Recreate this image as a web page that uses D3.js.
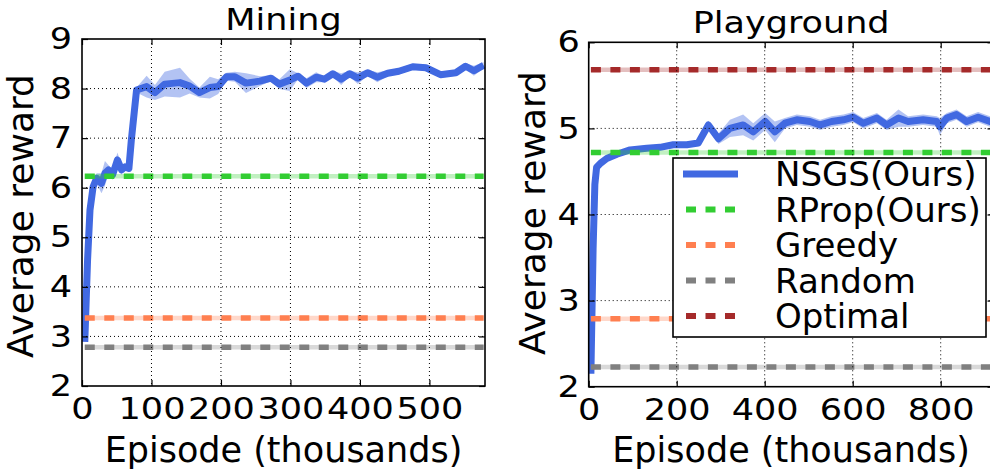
<!DOCTYPE html>
<html>
<head>
    <meta charset="utf-8">
    <title>Average reward</title>
    <style>
        * { margin: 0; padding: 0; }
        body { background: #fff; overflow: hidden; }
        svg { display: block; font-family: "DejaVu Sans", sans-serif; }
    </style>
    <script src="https://cdn.jsdelivr.net/npm/d3@7"></script>
</head>
<body>
<div id="root"></div>
<script>
    // legend order: first is the learning curve, the others are flat baselines
    var seriesNames = ["NSGS(Ours)", "RProp(Ours)", "Greedy", "Random", "Optimal"];
    var seriesColors = ["#4169e1", "#32cd32", "#ff7f50", "#808080", "#a52a2a"];

    // Mining (episodes in thousands)
    var miningEpisodes = [4, 8, 11.5, 16, 21, 28, 33, 38, 44, 51, 57, 62, 67.5, 71, 78.5,
        93, 105, 119, 141, 155, 169, 184, 196, 208, 220, 236, 256, 272, 284, 299,
        311, 323, 337, 349, 361, 373, 385, 397, 411, 425, 440, 456, 476, 495, 516,
        538, 552, 564, 578];
    var miningReward = [2.89, 4.54, 5.55, 6.02, 6.19, 6.09, 6.29, 6.36, 6.26, 6.56, 6.36, 6.42, 6.39, 6.96, 7.97,
        8.04, 7.92, 8.09, 8.12, 8.05, 7.92, 8.02, 8.04, 8.24, 8.24, 8.11, 8.15, 8.21, 8.09, 8.17,
        8.25, 8.11, 8.23, 8.19, 8.30, 8.19, 8.30, 8.21, 8.32, 8.23, 8.31, 8.35, 8.44, 8.42, 8.28,
        8.32, 8.45, 8.36, 8.47];
    var miningStd = [0, 0.05, 0.1, 0.1, 0.1, 0.2, 0.25, 0.1, 0.1, 0.15, 0.1, 0.05, 0.05, 0.05, 0.05,
        0.22, 0.15, 0.25, 0.3, 0.15, 0.1, 0.22, 0.15, 0.08, 0.1, 0.2, 0.1, 0.06, 0.1, 0.22,
        0.06, 0.1, 0.1, 0.06, 0.06, 0.12, 0.06, 0.12, 0.06, 0.1, 0.06, 0.06, 0.06, 0.06, 0.06,
        0.06, 0.06, 0.1, 0.06];
    var miningFlat = [null, 6.23, 3.37, 2.78, null];
    var miningXTicks = [0, 100, 200, 300, 400, 500];
    var miningYTicks = [2, 3, 4, 5, 6, 7, 8, 9];

    // Playground
    var playEpisodes = [5, 10, 14, 18, 28, 41, 64, 94, 132, 162, 192, 223, 249, 272, 295,
        321, 351, 374, 401, 423, 446, 473, 503, 526, 552, 579, 601, 624, 655, 677,
        704, 726, 760, 791, 798, 814, 836, 859, 885, 912, 920];
    var playReward = [2.15, 3.6, 4.35, 4.55, 4.6, 4.65, 4.70, 4.75, 4.77, 4.78, 4.81, 4.81, 4.83, 5.04, 4.88,
        5.0, 5.04, 4.96, 5.08, 4.96, 5.06, 5.10, 5.08, 5.04, 5.08, 5.10, 5.13, 5.06, 5.12, 5.04,
        5.12, 5.08, 5.10, 5.08, 5.02, 5.12, 5.16, 5.08, 5.13, 5.08, 5.10];
    var playStd = [0, 0.05, 0.05, 0.03, 0.03, 0.03, 0.03, 0.03, 0.03, 0.03, 0.03, 0.03, 0.03, 0.05, 0.06,
        0.1, 0.12, 0.1, 0.1, 0.12, 0.06, 0.06, 0.06, 0.06, 0.06, 0.06, 0.06, 0.06, 0.06, 0.06,
        0.1, 0.06, 0.06, 0.06, 0.1, 0.06, 0.06, 0.06, 0.06, 0.06, 0.06];
    var playFlat = [null, 4.72, 2.79, 2.23, 5.68];
    var playXTicks = [0, 200, 400, 600, 800];
    var playYTicks = [2, 3, 4, 5, 6];

    var width = 990, height = 469;
    var digitStretch = 1.17;   // tick digits in the picture are wider than tall
    var svg = d3.select("#root").append("svg").attr("width", width).attr("height", height);

    function renderPanel(p) {
        var x = d3.scaleLinear().domain([0, p.xMax]).range([p.left, p.right]);
        var y = d3.scaleLinear().domain([p.yMin, p.yMax]).range([p.bottom, p.top]);

        svg.append("clipPath").attr("id", p.id + "-clip")
            .append("rect")
            .attr("x", p.left).attr("y", p.top)
            .attr("width", p.right - p.left).attr("height", p.bottom - p.top);

        var plot = svg.append("g").attr("clip-path", "url(#" + p.id + "-clip)");

        var data = p.episodes.map(function (e, i) {
            return { e: e, r: p.reward[i], s: p.std[i] };
        });

        // std band + mean curve
        plot.append("path").datum(data)
            .attr("d", d3.area()
                .x(function (d) { return x(d.e); })
                .y0(function (d) { return y(d.r - d.s); })
                .y1(function (d) { return y(d.r + d.s); }))
            .attr("fill", seriesColors[0])
            .attr("fill-opacity", 0.4);

        plot.append("path").datum(data)
            .attr("d", d3.line()
                .x(function (d) { return x(d.e); })
                .y(function (d) { return y(d.r); }))
            .attr("fill", "none")
            .attr("stroke", seriesColors[0])
            .attr("stroke-width", 7)
            .attr("stroke-linejoin", "round");

        // flat baselines
        var e0 = p.episodes[0], e1 = p.episodes[p.episodes.length - 1];
        p.flat.forEach(function (v, i) {
            if (v === null) return;
            plot.append("line")
                .attr("x1", x(e0)).attr("x2", x(e1))
                .attr("y1", y(v)).attr("y2", y(v))
                .attr("stroke", seriesColors[i])
                .attr("stroke-opacity", 0.3)
                .attr("stroke-width", 4.5);
            plot.append("line")
                .attr("x1", x(e0)).attr("x2", x(e1))
                .attr("y1", y(v)).attr("y2", y(v))
                .attr("stroke", seriesColors[i])
                .attr("stroke-width", 5.5)
                .attr("stroke-dasharray", "10,9.5");
        });

        // dotted grid drawn above lines (classic style)
        plot.append("g").selectAll("line").data(p.xTicks.filter(function (t) { return t > 0; }))
            .enter().append("line")
            .attr("x1", function (d) { return x(d); }).attr("x2", function (d) { return x(d); })
            .attr("y1", p.top).attr("y2", p.bottom)
            .attr("stroke", "#000").attr("stroke-width", 1).attr("stroke-dasharray", "1,3");
        plot.append("g").selectAll("line").data(p.yTicks.filter(function (t) { return t > p.yMin && t < p.yMax; }))
            .enter().append("line")
            .attr("y1", function (d) { return y(d); }).attr("y2", function (d) { return y(d); })
            .attr("x1", p.left).attr("x2", p.right)
            .attr("stroke", "#000").attr("stroke-width", 1).attr("stroke-dasharray", "1,3");

        // axes, ticks pointing inwards on all sides
        function styleAxis(g) {
            g.select(".domain").remove();
            g.selectAll(".tick line").attr("stroke", "#000").attr("stroke-width", 1.2);
            g.selectAll(".tick text").attr("fill", "#000")
                .attr("font-family", "DejaVu Sans").attr("font-size", 30)
                .attr("transform", "scale(" + digitStretch + ",1)");
        }
        var fmt = d3.format("d");
        svg.append("g").attr("transform", "translate(0," + p.bottom + ")")
            .call(d3.axisBottom(x).tickValues(p.xTicks).tickFormat(fmt).tickSizeInner(-6).tickSizeOuter(0).tickPadding(12))
            .call(styleAxis);
        svg.append("g").attr("transform", "translate(0," + p.top + ")")
            .call(d3.axisTop(x).tickValues(p.xTicks).tickSizeInner(-6).tickSizeOuter(0).tickFormat(""))
            .call(styleAxis);
        svg.append("g").attr("transform", "translate(" + p.left + ",0)")
            .call(d3.axisLeft(y).tickValues(p.yTicks).tickFormat(fmt).tickSizeInner(-6).tickSizeOuter(0)
                .tickPadding(p.yPad / digitStretch))
            .call(styleAxis);
        svg.append("g").attr("transform", "translate(" + p.right + ",0)")
            .call(d3.axisRight(y).tickValues(p.yTicks).tickSizeInner(-6).tickSizeOuter(0).tickFormat(""))
            .call(styleAxis);

        svg.append("rect")
            .attr("x", p.left).attr("y", p.top)
            .attr("width", p.right - p.left).attr("height", p.bottom - p.top)
            .attr("fill", "none").attr("stroke", "#000").attr("stroke-width", 1.6);

        var cx = (p.left + p.right) / 2;
        svg.append("text").text(p.title)
            .attr("transform", "translate(" + cx + "," + (p.top - 9) + ") scale(1.13,1)")
            .attr("text-anchor", "middle").attr("font-size", 31);
        svg.append("text").text("Episode (thousands)")
            .attr("x", cx).attr("y", 462)
            .attr("text-anchor", "middle").attr("font-size", 35);
        svg.append("text").text("Average reward")
            .attr("transform", "translate(" + p.yLabelX + "," + p.yLabelY + ") rotate(-90)")
            .attr("text-anchor", "middle").attr("font-size", 36);
    }

    renderPanel({
        id: "mining", title: "Mining",
        left: 82, right: 485, top: 39, bottom: 386,
        xMax: 580, yMin: 2, yMax: 9, yPad: 10, yLabelX: 33, yLabelY: 216,
        episodes: miningEpisodes, reward: miningReward, std: miningStd, flat: miningFlat,
        xTicks: miningXTicks, yTicks: miningYTicks
    });

    renderPanel({
        id: "play", title: "Playground",
        left: 588.7, right: 993.5, top: 42.3, bottom: 386.7,
        xMax: 920, yMin: 2, yMax: 6, yPad: 9, yLabelX: 545, yLabelY: 213,
        episodes: playEpisodes, reward: playReward, std: playStd, flat: playFlat,
        xTicks: playXTicks, yTicks: playYTicks
    });

    // legend inside the Playground panel
    function renderLegend() {
        var lx = 673, ly = 158, rowH = 35.5;
        var legend = svg.append("g");
        legend.append("rect")
            .attr("x", lx).attr("y", ly).attr("width", 313).attr("height", 179)
            .attr("fill", "#fff").attr("stroke", "#000").attr("stroke-width", 1.6);

        var rows = legend.selectAll("g.row").data(seriesNames).enter()
            .append("g").attr("class", "row")
            .attr("transform", function (d, i) { return "translate(0," + (ly + 16 + i * rowH) + ")"; });

        rows.append("line")
            .attr("x1", function (d, i) { return i === 0 ? 683 : 686; })
            .attr("x2", function (d, i) { return i === 0 ? 738 : 736; })
            .attr("y1", 0).attr("y2", 0)
            .attr("stroke", function (d, i) { return seriesColors[i]; })
            .attr("stroke-width", function (d, i) { return i === 0 ? 7 : 6; })
            .attr("stroke-dasharray", function (d, i) { return i === 0 ? null : "10,9.5"; });

        rows.append("text").text(function (d) { return d; })
            .attr("x", 775).attr("y", 12)
            .attr("font-size", 34);
    }
    renderLegend();
</script>
</body>
</html>
